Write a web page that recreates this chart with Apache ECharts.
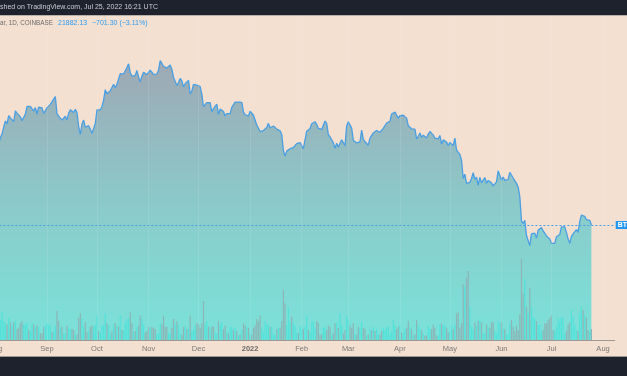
<!DOCTYPE html>
<html>
<head>
<meta charset="utf-8">
<script src="https://cdn.jsdelivr.net/npm/echarts@6/dist/echarts.min.js"></script>
<style>
  html, body { margin: 0; padding: 0; background: #f3e0d1; }
  #main { width: 627px; height: 376px; }
</style>
</head>
<body>
<div id="main"></div>
<script>
  // BTC/USD 1D (COINBASE), daily closes, 2021-08-01 .. 2022-07-25
  var closeAug21 = [39900, 39200, 38200, 39750, 40900, 42800, 44600, 43800, 46300, 45600, 45600, 44400, 47800, 47100, 47000, 45900, 44700, 44700, 46800, 49300, 48900, 49300, 49500, 47700, 48900, 46800, 49100, 48900, 48800, 47000, 47200];
  var closeSep21 = [48800, 49300, 50000, 49900, 51800, 52700, 46900, 46100, 46400, 44900, 45200, 46100, 44900, 47100, 48200, 47800, 47300, 48300, 47300, 43000, 40700, 43600, 44900, 42800, 42700, 43200, 42200, 41000, 41500, 43800];
  var closeOct21 = [48100, 47700, 48200, 49200, 51500, 55300, 53800, 53900, 54900, 54700, 57400, 56000, 57400, 57300, 61700, 60900, 61500, 62000, 64300, 66000, 62200, 60700, 61300, 60900, 63100, 60300, 58300, 60600, 62300, 61900, 61300];
  var closeNov21 = [61000, 63200, 62900, 61400, 61000, 61500, 63300, 67500, 66900, 64900, 64800, 64100, 64400, 65500, 63600, 60100, 60400, 56900, 58100, 59700, 58700, 56300, 57600, 57100, 58900, 53700, 54800, 57300, 57800, 57000];
  var closeDec21 = [56900, 56500, 53600, 49200, 49400, 50600, 50500, 50600, 47600, 47100, 49400, 50100, 46700, 48400, 48900, 47600, 46200, 46900, 46700, 46900, 49000, 48600, 50800, 50400, 50800, 50700, 50700, 47500, 46500, 47100, 46200];
  var closeJan22 = [47700, 47300, 46400, 45800, 43400, 43100, 41500, 41700, 41800, 41800, 42700, 43900, 42600, 43100, 43100, 43100, 42200, 42400, 41700, 40700, 36400, 35100, 36300, 36700, 36900, 36800, 37200, 37700, 38200, 37900, 38500];
  var closeFeb22 = [38700, 36900, 37300, 41600, 41400, 42400, 43800, 44100, 44400, 43600, 42400, 42200, 42100, 42600, 44600, 43900, 40600, 40000, 40100, 38400, 37000, 38300, 37300, 38300, 39200, 39100, 37700, 43200];
  var closeMar22 = [44400, 43900, 42500, 39100, 39400, 38400, 38000, 38700, 41900, 39400, 38700, 38800, 37800, 39700, 39300, 41100, 40900, 41800, 42200, 41300, 41000, 42400, 42900, 44000, 44300, 44500, 46800, 47100, 47400, 47100, 45500];
  var closeApr22 = [46300, 45800, 46400, 46600, 45500, 43200, 43400, 42300, 42800, 42200, 39500, 40100, 41100, 39900, 40500, 40400, 39700, 40800, 41500, 41400, 40500, 39700, 39500, 39500, 40400, 38100, 39200, 39700, 38600, 37700];
  var closeMay22 = [38500, 38500, 37700, 39700, 36600, 36000, 35500, 34100, 30100, 31000, 29100, 28900, 29300, 30100, 31300, 29900, 30400, 28700, 30300, 29200, 29400, 30300, 29100, 29700, 29500, 29200, 28600, 29000, 29400, 31700, 31800];
  var closeJun22 = [29800, 30400, 29700, 29900, 29900, 31400, 31100, 30200, 30100, 29100, 28400, 26600, 22500, 22100, 22600, 20400, 20500, 19000, 20600, 20600, 20700, 20000, 21100, 21200, 21500, 21000, 20700, 20300, 20100, 19900];
  var closeJul22 = [19300, 19200, 19300, 20200, 20200, 20500, 21600, 21600, 21600, 20800, 19900, 19300, 20200, 20600, 20800, 21200, 20800, 22400, 23400, 23200, 23200, 22700, 22500, 22600, 21882.13];

  // daily volume, thousand BTC
  var volAug21 = [10, 16, 17, 18, 25, 17, 15, 14, 20, 16, 14, 16, 17, 10, 11, 15, 17, 14, 14, 16, 9, 8, 15, 14, 12, 13, 12, 6, 6, 12, 13];
  var volSep21 = [15, 13, 13, 7, 8, 13, 26, 17, 11, 12, 6, 6, 13, 11, 10, 10, 9, 5, 5, 20, 24, 19, 12, 16, 7, 8, 12, 13, 12, 14];
  var volOct21 = [22, 8, 7, 13, 14, 24, 15, 13, 6, 8, 14, 15, 13, 12, 22, 9, 9, 16, 19, 20, 25, 15, 7, 8, 12, 13, 22, 19, 14, 7, 8];
  var volNov21 = [12, 11, 12, 11, 10, 5, 6, 15, 14, 22, 12, 12, 6, 6, 11, 19, 14, 17, 14, 6, 5, 12, 12, 10, 10, 22, 8, 9, 13, 15];
  var volDec21 = [14, 11, 15, 35, 14, 17, 12, 11, 12, 12, 7, 6, 17, 14, 16, 10, 13, 7, 6, 12, 12, 9, 11, 8, 4, 5, 9, 15, 13, 12, 11];
  var volJan22 = [6, 5, 11, 13, 19, 17, 22, 11, 7, 17, 14, 14, 12, 12, 5, 5, 10, 11, 11, 17, 45, 33, 14, 29, 17, 21, 16, 13, 7, 6, 12];
  var volFeb22 = [12, 10, 12, 22, 9, 7, 16, 17, 11, 17, 15, 5, 5, 11, 12, 9, 13, 12, 5, 6, 15, 16, 11, 24, 13, 6, 9, 22];
  var volMar22 = [18, 13, 11, 15, 5, 5, 12, 11, 16, 11, 10, 4, 5, 10, 9, 12, 8, 10, 5, 5, 8, 11, 9, 12, 12, 5, 8, 18, 13, 10, 12];
  var volApr22 = [13, 7, 6, 10, 11, 17, 11, 10, 4, 5, 18, 13, 10, 9, 6, 4, 4, 13, 10, 10, 14, 11, 4, 4, 14, 15, 13, 13, 11, 7];
  var volMay22 = [8, 13, 10, 14, 24, 25, 11, 15, 50, 48, 56, 62, 30, 12, 10, 16, 13, 17, 19, 16, 6, 6, 14, 11, 11, 16, 16, 8, 6, 17, 15];
  var volJun22 = [16, 10, 10, 5, 5, 15, 18, 12, 8, 13, 9, 23, 73, 42, 55, 30, 25, 47, 30, 21, 19, 17, 14, 14, 8, 9, 15, 15, 18, 20];
  var volJul22 = [22, 9, 8, 12, 20, 17, 21, 20, 6, 8, 14, 16, 27, 21, 14, 9, 8, 24, 30, 27, 22, 20, 9, 8, 10];

  var lastClose = 21882.13;
  var headerText = 'shed on TradingView.com, Jul 25, 2022 16:21 UTC';
  var symbolText = 'ar, 1D, COINBASE';
  var priceText = '21882.13';
  var changeText = '\u2212701.30 (\u22123.11%)';
  var monthNames = ['2022', 'Feb', 'Mar', 'Apr', 'May', 'Jun', 'Jul', 'Aug', 'Sep', 'Oct', 'Nov', 'Dec'];

  var closes = [].concat(closeAug21, closeSep21, closeOct21, closeNov21, closeDec21, closeJan22,
    closeFeb22, closeMar22, closeApr22, closeMay22, closeJun22, closeJul22);
  var volumes = [].concat(volAug21, volSep21, volOct21, volNov21, volDec21, volJan22,
    volFeb22, volMar22, volApr22, volMay22, volJun22, volJul22);

  // one category per day, axis runs a bit past the last bar
  var days = [];
  var t = Date.UTC(2021, 7, 1), tEnd = Date.UTC(2022, 7, 8);
  for (; t <= tEnd; t += 86400000) {
    days.push(new Date(t).toISOString().slice(0, 10));
  }

  var isMonthStart = function (i, v) { return v.slice(8) === '01'; };
  var font = 'Liberation Sans, Arial, sans-serif';

  var chart = echarts.init(document.getElementById('main'));

  var option = {
    backgroundColor: '#f3e0d1',
    animation: false,
    grid: { left: -4.6, right: 12.3, top: 16, bottom: 36, outerBoundsMode: 'none', containLabel: false },
    xAxis: {
      type: 'category',
      data: days,
      boundaryGap: false,
      z: 4,
      axisLine: { show: true, lineStyle: { color: '#9d9894', width: 1 } },
      axisTick: { show: false },
      axisLabel: {
        interval: isMonthStart,
        margin: 5,
        color: '#7d7976',
        fontSize: 7.5,
        fontFamily: font,
        formatter: function (v) {
          var m = parseInt(v.slice(5, 7), 10);
          return m === 1 ? '{y|' + monthNames[0] + '}' : monthNames[m - 1];
        },
        rich: { y: { fontWeight: 'bold', color: '#6e6a67', fontSize: 7.5, fontFamily: font } }
      },
      // faint grid, drawn over the fill the way the semi-transparent area lets it show through
      splitLine: { show: true, interval: isMonthStart, lineStyle: { color: 'rgba(255,255,255,0.1)', width: 1 } }
    },
    yAxis: [
      { type: 'log', logBase: 10, min: 9955, max: 91580, show: false, splitLine: { show: false } },
      { type: 'value', min: 0, max: 291.6, show: false, splitLine: { show: false } }
    ],
    series: [
      {
        name: 'BTCUSD',
        type: 'line',
        data: closes,
        yAxisIndex: 0,
        symbol: 'none',
        lineStyle: { color: '#4a9fe3', width: 1.3 },
        areaStyle: {
          origin: 'start',
          opacity: 1,
          color: new echarts.graphic.LinearGradient(0, 0, 0, 1, [
            { offset: 0, color: '#9ea8b4' },
            { offset: 0.55, color: '#8acccb' },
            { offset: 1, color: '#7ae2da' }
          ])
        },
        markLine: {
          silent: true,
          symbol: ['none', 'none'],
          lineStyle: { color: '#4a9fe3', type: [2, 2], width: 1 },
          label: {
            show: true, position: 'end', formatter: 'BTCUSD', distance: 1,
            color: '#ffffff', backgroundColor: '#2196f3', padding: [1, 2, 0, 2],
            fontSize: 7, fontWeight: 'bold', fontFamily: font
          },
          data: [{ yAxis: lastClose }]
        },
        z: 2
      },
      {
        name: 'Volume',
        type: 'bar',
        data: volumes,
        yAxisIndex: 1,
        barWidth: 1.2,
        itemStyle: {
          color: function (p) {
            var i = p.dataIndex;
            return (i > 0 && closes[i] >= closes[i - 1]) ? '#52e2d9' : '#8db4b6';
          }
        },
        z: 3
      }
    ],
    graphic: [
      { type: 'rect', left: 0, top: 0, shape: { width: 627, height: 15 }, style: { fill: '#1e222d' }, z: 10 },
      { type: 'rect', left: 0, top: 15, shape: { width: 627, height: 1 }, style: { fill: '#b8b0a9' }, z: 10 },
      { type: 'text', left: 0, top: 4, style: { text: headerText, fill: '#c9ccd3', fontSize: 7, fontFamily: font }, z: 11 },
      { type: 'text', left: 0, top: 20, style: { text: symbolText, fill: '#6f6c6b', fontSize: 6.3, fontFamily: font }, z: 11 },
      { type: 'text', left: 58, top: 20, style: { text: priceText, fill: '#2f9bf0', fontSize: 7, fontFamily: font }, z: 11 },
      { type: 'text', left: 92, top: 20, style: { text: changeText, fill: '#2f9bf0', fontSize: 7, fontFamily: font }, z: 11 },
      { type: 'rect', left: 0, top: 356, shape: { width: 627, height: 1 }, style: { fill: '#9d9894' }, z: 10 },
      { type: 'rect', left: 0, top: 357, shape: { width: 627, height: 19 }, style: { fill: '#1e222d' }, z: 10 }
    ]
  };

  chart.setOption(option);
</script>
</body>
</html>
